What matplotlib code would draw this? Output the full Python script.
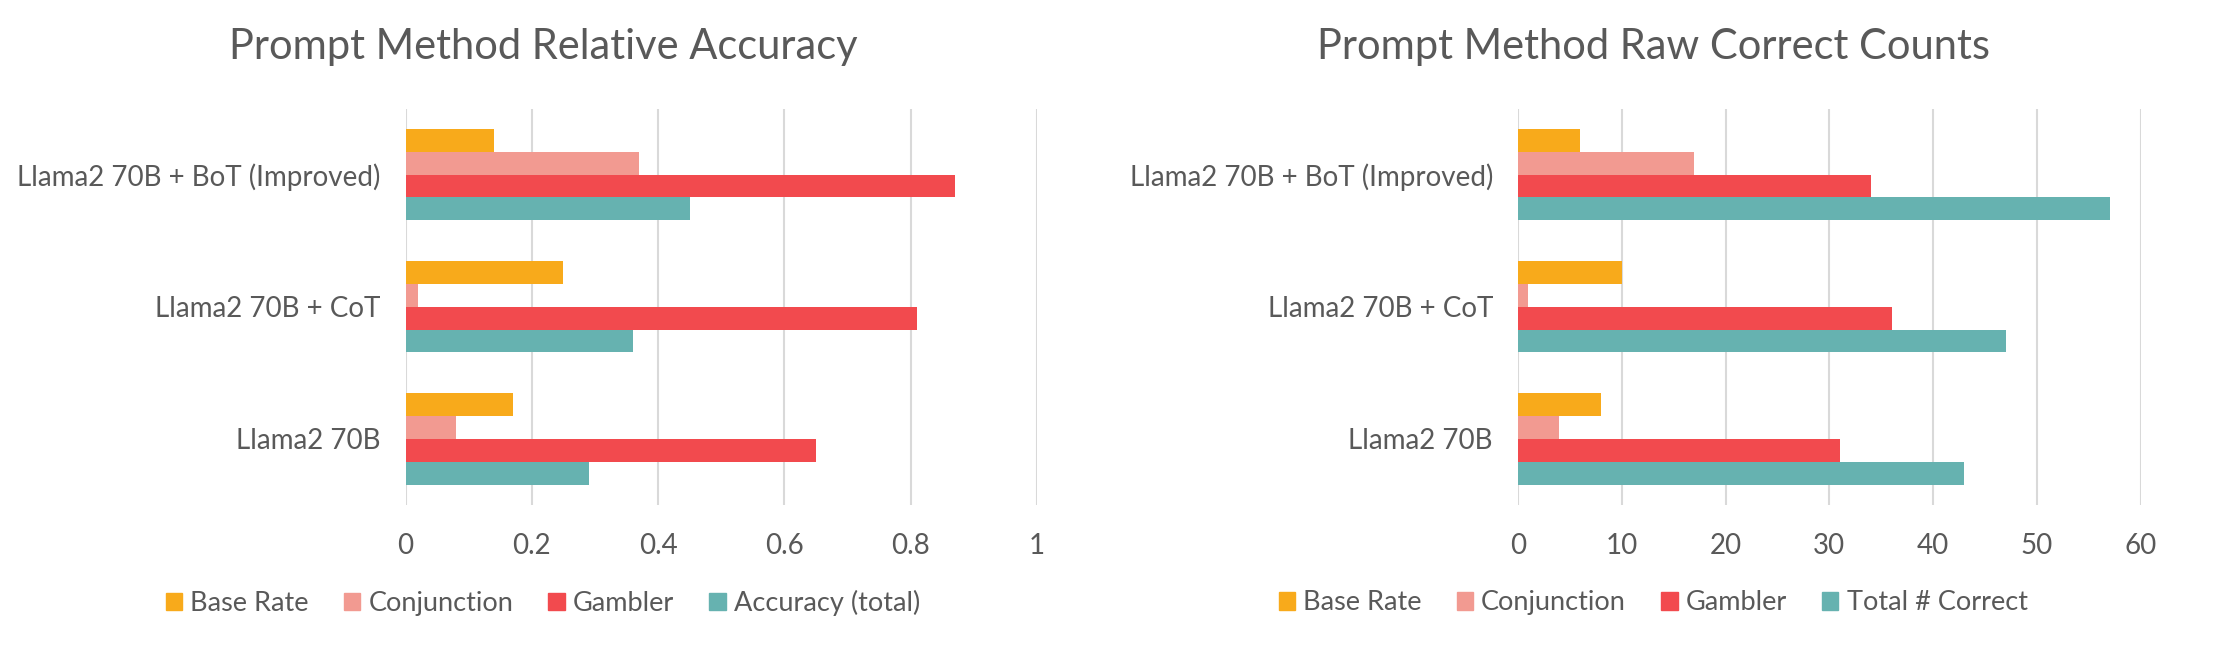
import numpy as np
import matplotlib.pyplot as plt
from matplotlib.patches import Patch

###############################################################################
# Data
###############################################################################
models = ['Llama2 70B', 'Llama2 70B + CoT', 'Llama2 70B + BoT (Improved)']
seriesL = ['Base Rate', 'Conjunction', 'Gambler', 'Accuracy (total)']
seriesR = ['Base Rate', 'Conjunction', 'Gambler', 'Total # Correct']
# Relative accuracy (rows follow models)
accBase = [0.17, 0.25, 0.14]
accConj = [0.08, 0.02, 0.37]
accGamb = [0.65, 0.81, 0.87]
accTotal = [0.29, 0.36, 0.45]
# Raw correct counts
cntBase = [8, 10, 6]
cntConj = [4, 1, 17]
cntGamb = [31, 36, 34]
cntTotal = [43, 47, 57]
ticksL = [0, 0.2, 0.4, 0.6, 0.8, 1]
ticksR = [0, 10, 20, 30, 40, 50, 60]
###############################################################################
# Style
###############################################################################
COLORS = ['#F8AA1B', '#F29A91', '#F24A4E', '#66B2B0']
TXT = '#595959'
GRID = '#D9D9D9'
plt.rcParams['font.family'] = ['Lato', 'DejaVu Sans']

fig = plt.figure(figsize=(22.16, 6.54), dpi=100)
axL = fig.add_axes([0.183, 0.228, 0.285, 0.606])
axR = fig.add_axes([0.685, 0.228, 0.281, 0.606])

h = 0.173
offs = [1.5*h, 0.5*h, -0.5*h, -1.5*h]
y = np.arange(len(models))


def draw(ax, vals, ticks, labels, title, cx):
    for (v, off, c) in zip(vals, offs, COLORS):
        ax.barh(y + off, v, height=h, color=c, zorder=3, lw=0)
    ax.set_xlim(ticks[0], ticks[-1])
    ax.set_ylim(-0.5, 2.5)
    ax.set_xticks(ticks)
    ax.set_xticklabels([('%g' % t) for t in ticks])
    ax.set_yticks(y)
    ax.set_yticklabels(models)
    for s in ax.spines.values():
        s.set_visible(False)
    ax.grid(axis='x', color=GRID, lw=1.5, zorder=0)
    ax.tick_params(axis='both', length=0, colors=TXT, labelsize=20)
    ax.tick_params(axis='x', pad=20)
    ax.tick_params(axis='y', pad=18)
    fig.text(cx, 0.928, title, ha='center', va='center',
             fontsize=30, color=TXT)
    handles = [Patch(color=c, label=l) for (c, l) in zip(COLORS, labels)]
    leg = fig.legend(
        handles=handles, loc='center', ncol=4, frameon=False,
        bbox_to_anchor=(cx, 0.078), fontsize=19.5,
        handlelength=0.6, handleheight=0.6, handletextpad=0.3,
        columnspacing=1.3
    )
    for t in leg.get_texts():
        t.set_color(TXT)


draw(axL, [accBase, accConj, accGamb, accTotal], ticksL, seriesL,
     'Prompt Method Relative Accuracy', 0.245)
draw(axR, [cntBase, cntConj, cntGamb, cntTotal], ticksR, seriesR,
     'Prompt Method Raw Correct Counts', 0.746)

fig.savefig('out.png', dpi=100)
